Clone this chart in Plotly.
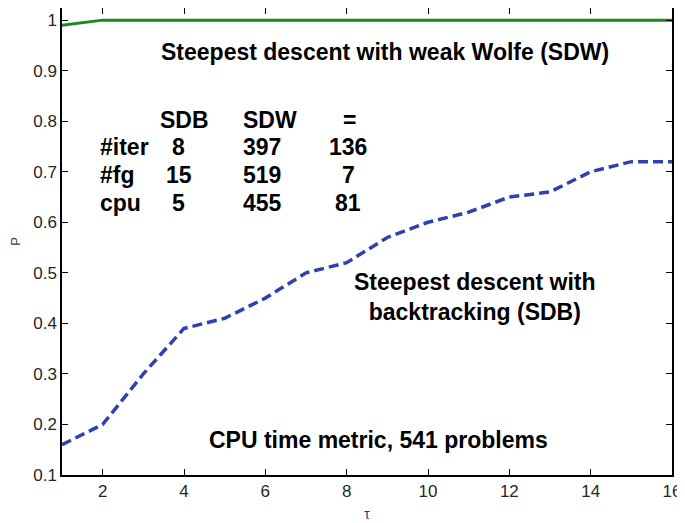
import plotly.graph_objects as go

# Performance profile data
tau = [1, 2, 3, 4, 5, 6, 7, 8, 9, 10, 11, 12, 13, 14, 15, 16]
p_sdw = [0.99, 1.0, 1.0, 1.0, 1.0, 1.0, 1.0, 1.0, 1.0, 1.0, 1.0, 1.0, 1.0, 1.0, 1.0, 1.0]
p_sdb = [0.16, 0.20, 0.30, 0.39, 0.41, 0.45, 0.50, 0.52, 0.57, 0.60, 0.62, 0.65, 0.66, 0.70, 0.72, 0.72]

# Summary table shown in the plot
col_heads = ["SDB", "SDW", "="]
row_heads = ["#iter", "#fg", "cpu"]
table_vals = [[8, 397, 136], [15, 519, 7], [5, 455, 81]]

fig = go.Figure()
fig.add_trace(go.Scatter(x=tau, y=p_sdw, mode="lines",
                         line=dict(color="#1a8a1a", width=3), showlegend=False))
fig.add_trace(go.Scatter(x=tau, y=p_sdb, mode="lines",
                         line=dict(color="#3040b0", width=3.5, dash="10px,5px"), showlegend=False))

bold = dict(family="Liberation Sans, Arial", size=23, color="black")

def note(x, y, text, **kw):
    fig.add_annotation(x=x, y=y, text="<b>" + text + "</b>", showarrow=False,
                       font=bold, **kw)

note(8.95, 0.937, "Steepest descent with weak Wolfe (SDW)")
note(11.15, 0.452, "Steepest descent with<br>backtracking (SDB)")
note(8.79, 0.17, "CPU time metric, 541 problems")

# table layout: header and value columns sit at slightly different centres
head_x = [4.01, 6.12, 8.06]
val_x = [3.87, 5.93, 8.04]
row_y = [0.749, 0.694, 0.638]
for cx, h in zip(head_x, col_heads):
    note(cx, 0.802, h)
for ry, rh, vals in zip(row_y, row_heads, table_vals):
    note(1.88, ry, rh, xanchor="left")
    for cx, v in zip(val_x, vals):
        note(cx, ry, str(v))

axis_font = dict(family="Liberation Sans, Arial", size=17, color="#262626")
fig.update_xaxes(range=[1, 16], tickvals=[2, 4, 6, 8, 10, 12, 14, 16],
                 ticks="inside", ticklen=6, tickcolor="black", mirror="ticks",
                 showline=True, linecolor="black", linewidth=1.5, automargin=False,
                 showgrid=False, zeroline=False, tickfont=axis_font,
                 title=dict(text="τ", font=dict(family="Liberation Sans", size=14), standoff=9))
fig.update_yaxes(range=[0.1, 1.024], tickvals=[0.1, 0.2, 0.3, 0.4, 0.5, 0.6, 0.7, 0.8, 0.9, 1],
                 ticktext=["0.1", "0.2", "0.3", "0.4", "0.5", "0.6", "0.7", "0.8", "0.9", "1"],
                 ticks="inside", ticklen=6, tickcolor="black", mirror="ticks",
                 showline=True, linecolor="black", linewidth=1.5, automargin=False,
                 showgrid=False, zeroline=False, tickfont=axis_font,
                 title=dict(text="P", font=dict(family="Liberation Sans", size=13), standoff=12))
# page has an 8px body margin, so the figure is sized to fit what is visible
fig.update_layout(width=677, height=515, plot_bgcolor="white", paper_bgcolor="white",
                  margin=dict(l=54, r=13, t=0, b=48))

fig.write_html("out.html")
